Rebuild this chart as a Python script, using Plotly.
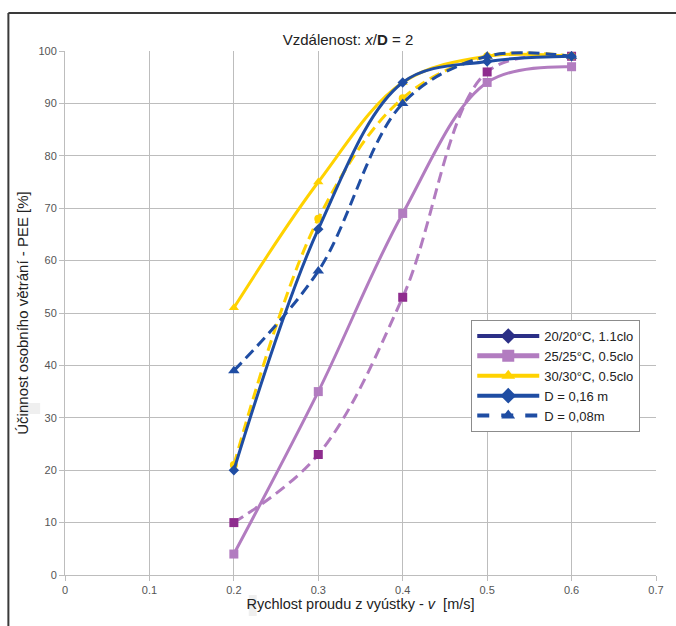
import plotly.graph_objects as go

# Air outlet velocity [m/s]
velocity = [0.2, 0.3, 0.4, 0.5, 0.6]

# Personal ventilation effectiveness PEE [%]
pee_20_d16 = [20, 66, 94, 98, 99]
pee_20_d08 = [39, 58, 90, 99, 99]
pee_25_d16 = [4, 35, 69, 94, 97]
pee_25_d08 = [10, 23, 53, 96, 99]
pee_30_d16 = [51, 75, 94, 99, 99]
pee_30_d08 = [21, 68, 91, 99, 99]

x_ticks = [0, 0.1, 0.2, 0.3, 0.4, 0.5, 0.6, 0.7]
y_ticks = list(range(0, 101, 10))

legend_names = ["20/20°C, 1.1clo", "25/25°C, 0.5clo", "30/30°C, 0.5clo",
                "D = 0,16 m", "D = 0,08m"]

NAVY = "#2B2F86"
BLUE = "#1F4DA3"
PURPLE = "#B27CC0"
PURPLE_DARK = "#8E2C8E"
YELLOW = "#FFD200"
DASH = "11px,6px"

SANS = "Liberation Sans, Arial, sans-serif"

fig = go.Figure()


def curve(y, color, dash, symbol, mcolor=None, msize=8):
    fig.add_trace(go.Scatter(
        x=velocity, y=y, mode="lines+markers", showlegend=False,
        line=dict(color=color, width=3, dash=dash, shape="spline", smoothing=1),
        marker=dict(symbol=symbol, size=msize, color=mcolor or color),
        hoverinfo="x+y",
    ))


curve(pee_25_d16, PURPLE, "solid", "square", PURPLE, 9)
curve(pee_25_d08, PURPLE, DASH, "square", PURPLE_DARK, 9)
curve(pee_30_d16, YELLOW, "solid", "triangle-up", YELLOW, 9)
curve(pee_30_d08, YELLOW, DASH, "circle", YELLOW, 8)
curve(pee_20_d16, BLUE, "solid", "diamond", BLUE, 8)
curve(pee_20_d08, BLUE, DASH, "triangle-up", BLUE, 10)

# legend keys
legend_styles = [
    (NAVY, "solid", "diamond", 4),
    (PURPLE, "solid", "square", 5),
    (YELLOW, "solid", "triangle-up", 4),
    (BLUE, "solid", "diamond", 4),
    (BLUE, "dash", "triangle-up", 4),
]
for name, (color, dash, symbol, width) in zip(legend_names, legend_styles):
    fig.add_trace(go.Scatter(
        x=[None], y=[None], mode="lines+markers", name=name,
        line=dict(color=color, width=width, dash=dash),
        marker=dict(symbol=symbol, size=12, color=color),
    ))

GRID = "#BDBDBD"
fig.update_layout(
    width=676, height=626,
    margin=dict(l=65, r=16, t=51, b=51),
    paper_bgcolor="white", plot_bgcolor="white",
    font=dict(family=SANS, color="#333333"),
    title=dict(text="Vzdálenost: <i>x</i>/<b>D</b> = 2", x=348 / 676, xanchor="center",
               y=1 - 40 / 626, yanchor="middle",
               font=dict(family=SANS, size=15, color="#222222")),
    xaxis=dict(range=[0, 0.7], tickvals=x_ticks, ticktext=[str(v) for v in x_ticks],
               showgrid=True, gridcolor=GRID, gridwidth=1,
               showline=True, linecolor=GRID, linewidth=1, mirror=False,
               ticks="outside", ticklen=5, tickcolor=GRID, zeroline=False,
               tickfont=dict(family=SANS, size=11, color="#555555"),
               title=dict(text="Rychlost proudu z vyústky - <i>v</i>  [m/s]",
                          standoff=3, font=dict(family=SANS, size=14.5, color="#222222"))),
    yaxis=dict(range=[0, 100], tickvals=y_ticks,
               showgrid=True, gridcolor=GRID, gridwidth=1,
               showline=True, linecolor=GRID, linewidth=1,
               ticks="outside", ticklen=5, tickcolor=GRID, zeroline=False,
               tickfont=dict(family=SANS, size=11, color="#555555"),
               title=dict(text="Účinnost osobního větrání - PEE [%]",
                          standoff=6, font=dict(family=SANS, size=15, color="#222222"))),
    legend=dict(x=(474 - 65) / 595, y=(575 - 320) / 524, xanchor="left", yanchor="top",
                bgcolor="white", bordercolor="#8C8C8C", borderwidth=1,
                font=dict(family=SANS, size=13, color="#222222"),
                tracegroupgap=0, itemwidth=62, entrywidth=110, entrywidthmode="pixels"),
    showlegend=True,
)

# outer frame (top and left edges) and faint backing boxes behind the axis titles
fig.add_shape(type="line", xref="paper", yref="paper",
              x0=(8 - 65) / 595, x1=(700 - 65) / 595,
              y0=(575 - 13) / 524, y1=(575 - 13) / 524,
              line=dict(color="#3A3A3A", width=2))
fig.add_shape(type="line", xref="paper", yref="paper",
              x0=(8 - 65) / 595, x1=(8 - 65) / 595,
              y0=(575 - 13) / 524, y1=(575 - 640) / 524,
              line=dict(color="#3A3A3A", width=2))
fig.add_shape(type="rect", xref="paper", yref="paper", layer="below",
              x0=(19 - 65) / 595, x1=(40 - 65) / 595,
              y0=(575 - 403) / 524, y1=(575 - 414) / 524,
              fillcolor="#EFEFEF", line=dict(width=0))
fig.add_shape(type="rect", xref="paper", yref="paper", layer="below",
              x0=(250 - 65) / 595, x1=(258 - 65) / 595,
              y0=(575 - 595) / 524, y1=(575 - 616) / 524,
              fillcolor="#EFEFEF", line=dict(width=0))

fig.write_html("out.html")
